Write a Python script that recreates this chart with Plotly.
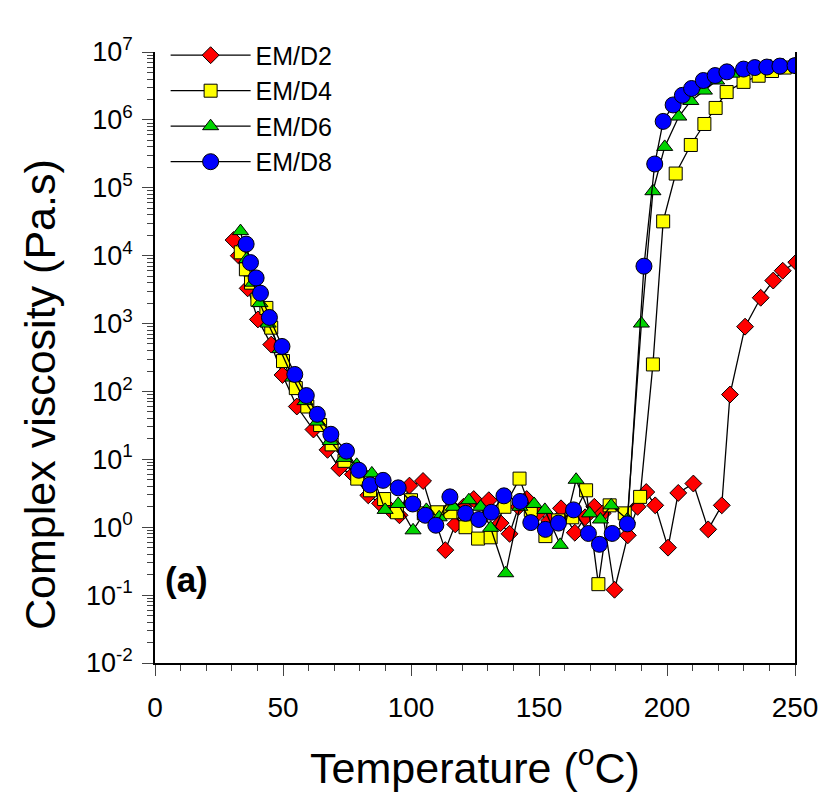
import plotly.graph_objects as go

# ---------------- data ----------------
t_d2 = [30.7, 32.7, 36.2, 40.2, 45.4, 49.8, 55.4, 61.9, 67.4, 72.0, 77.3, 83.3, 87.9, 92.0, 95.5,
        99.4, 104.7, 109.0, 113.4, 117.3, 120.5, 124.5, 130.4, 135.0, 138.5, 142.0, 145.2, 149.5,
        154.0, 158.6, 164.0, 168.0, 171.6, 174.9, 179.5, 184.7, 188.5, 191.9, 195.4, 200.4, 204.4,
        210.3, 216.1, 221.4, 224.6, 230.5, 236.6, 241.5, 245.2, 250.5]
v_d2 = [17000, 10000, 3300, 1150, 490, 175, 60, 27.5, 13.8, 7.4, 6.0, 2.95, 2.25, 1.8, 1.5,
        4.1, 4.8, 1.4, 0.46, 1.1, 2.0, 2.6, 2.5, 1.15, 0.8, 2.0, 2.6, 1.6,
        1.25, 1.9, 0.83, 1.4, 2.0, 1.6, 0.12, 0.76, 2.0, 3.3, 2.1, 0.5, 3.2,
        4.4, 0.93, 2.1, 90, 900, 2400, 4300, 6000, 8000]

t_d4 = [33.5, 35.5, 37.5, 40.0, 43.5, 45.4, 50.0, 55.0, 59.5, 64.5, 69.0, 74.0, 79.0, 84.0, 89.5,
        94.5, 100.0, 105.0, 110.3, 115.4, 121.3, 126.2, 131.1, 136.5, 142.4, 146.8, 152.5, 157.5,
        163.0, 168.4, 173.2, 177.6, 183.5, 189.5, 194.5, 198.5, 203.4, 209.3, 214.6, 219.0, 223.3,
        229.9, 235.8, 241.0, 246.0, 250.5]
v_d4 = [11200, 6300, 4000, 2240, 1700, 870, 280, 112, 60, 32, 16.6, 9.5, 5.2, 3.5, 2.6,
        1.66, 2.5, 1.6, 1.66, 1.66, 1.0, 0.68, 0.71, 2.0, 5.2, 1.8, 0.74, 1.26,
        1.4, 3.5, 0.145, 2.1, 1.6, 2.8, 250, 32000, 162000, 427000, 870000, 1500000, 2570000,
        3630000, 4470000, 5250000, 5900000, 6300000]

t_d6 = [33.4, 35.8, 38.3, 41.0, 44.2, 48.8, 53.8, 58.6, 63.5, 68.5, 73.8, 78.8, 84.7, 89.9, 95.0,
        100.8, 106.0, 111.0, 116.5, 122.6, 127.2, 131.1, 137.0, 142.5, 148.1, 152.3, 158.3, 164.5,
        169.8, 174.0, 178.2, 184.5, 190.0, 194.5, 199.1, 204.6, 209.3, 214.6, 219.4, 225.3, 230.5,
        235.5, 240.5, 245.5, 250.2]
v_d6 = [23000, 8900, 4000, 2000, 1000, 420, 160, 72, 36, 18.6, 10.5, 8.3, 6.2, 1.8, 2.2,
        0.9, 1.8, 1.4, 2.0, 2.5, 2.0, 0.98, 0.21, 2.0, 2.2, 1.8, 0.55, 5.0,
        1.6, 1.3, 2.1, 1.3, 1000, 89000, 400000, 1120000, 1900000, 2700000, 3800000, 4800000, 5500000,
        5900000, 6200000, 6300000, 6500000]

t_d8 = [35.6, 37.3, 39.5, 41.2, 44.7, 49.6, 54.6, 59.1, 63.4, 68.7, 74.8, 79.6, 84.0, 89.1, 95.0,
        100.7, 105.6, 109.7, 115.2, 121.3, 126.5, 131.4, 136.3, 142.6, 146.8, 152.5, 157.6, 163.5,
        169.3, 173.6, 178.6, 184.5, 191.0, 195.2, 198.5, 202.4, 206.0, 209.6, 214.2, 218.8, 223.4,
        229.9, 234.3, 239.0, 244.1, 250.0]
v_d8 = [14800, 7900, 4700, 2800, 1230, 460, 178, 87, 46, 23.4, 13.2, 6.9, 4.2, 4.9, 3.8,
        2.2, 1.5, 1.07, 2.8, 1.6, 1.3, 1.66, 2.9, 2.4, 1.17, 0.93, 1.15, 1.8,
        0.81, 0.56, 0.81, 1.12, 7000, 224000, 950000, 1660000, 2300000, 2900000, 3800000, 4500000, 5100000,
        5600000, 5900000, 6000000, 6200000, 6300000]

series_names = ["EM/D2", "EM/D4", "EM/D6", "EM/D8"]
y_tick_vals = [1e-2, 1e-1, 1e0, 1e1, 1e2, 1e3, 1e4, 1e5, 1e6, 1e7]
y_tick_text = ["10<sup>-2</sup>", "10<sup>-1</sup>", "10<sup>0</sup>", "10<sup>1</sup>",
               "10<sup>2</sup>", "10<sup>3</sup>", "10<sup>4</sup>", "10<sup>5</sup>",
               "10<sup>6</sup>", "10<sup>7</sup>"]
x_tick_vals = [0, 50, 100, 150, 200, 250]
x_title = "Temperature (<sup>o</sup>C)"
y_title = "Complex viscosity (Pa.s)"
panel_label = "<b>(a)</b>"

# ---------------- styling ----------------
FONT = "Liberation Sans, Arial, sans-serif"
styles = [
    dict(symbol="diamond", color="#ff0000", size=13),
    dict(symbol="square", color="#ffff00", size=13),
    dict(symbol="triangle-up", color="#00d400", size=14),
    dict(symbol="circle", color="#0000ff", size=16),
]

fig = go.Figure()
for name, t, v, st in zip(series_names, [t_d2, t_d4, t_d6, t_d8],
                          [v_d2, v_d4, v_d6, v_d8], styles):
    fig.add_trace(go.Scatter(
        x=t, y=v, mode="lines+markers", name=name,
        line=dict(color="black", width=1.3),
        marker=dict(symbol=st["symbol"], color=st["color"], size=st["size"],
                    line=dict(color="black", width=1)),
    ))

fig.update_layout(
    width=822, height=802,
    margin=dict(l=155, r=27, t=52, b=139, autoexpand=False),
    paper_bgcolor="white", plot_bgcolor="white",
    font=dict(family=FONT, color="black"),
    showlegend=True,
    legend=dict(x=0.0166, y=1.032, xanchor="left", yanchor="top",
                font=dict(size=25, family=FONT), bgcolor="rgba(0,0,0,0)",
                itemwidth=80),
    xaxis=dict(
        range=[0, 250], tickvals=x_tick_vals, ticks="outside", ticklen=11, tickwidth=1.3,
        showline=True, linecolor="black", linewidth=1.5, mirror=False, automargin=False,
        showgrid=False, zeroline=False, ticklabelstandoff=8,
        tickfont=dict(size=28, family=FONT),
        minor=dict(dtick=10, ticks="outside", ticklen=6, tickwidth=1, showgrid=False),
        title=dict(text=x_title, font=dict(size=43, family=FONT), standoff=31),
    ),
    yaxis=dict(
        type="log", range=[-2, 7], tickvals=y_tick_vals, ticktext=y_tick_text,
        ticks="outside", ticklen=11, tickwidth=1.3,
        showline=True, linecolor="black", linewidth=1.5, mirror=True, automargin=False,
        showgrid=False, zeroline=False, ticklabelstandoff=4,
        tickfont=dict(size=27, family=FONT),
        minor=dict(dtick="D1", ticks="outside", ticklen=6, tickwidth=1, showgrid=False),
    ),
    annotations=[
        dict(text=panel_label, xref="paper", yref="paper", x=0.012, y=0.137,
             xanchor="left", yanchor="middle", showarrow=False,
             font=dict(size=35, family=FONT)),
        dict(text=y_title, xref="paper", yref="paper", x=-0.18, y=0.44,
             xanchor="center", yanchor="middle", textangle=-90, showarrow=False,
             font=dict(size=43, family=FONT)),
    ],
)

fig.write_html("out.html")
